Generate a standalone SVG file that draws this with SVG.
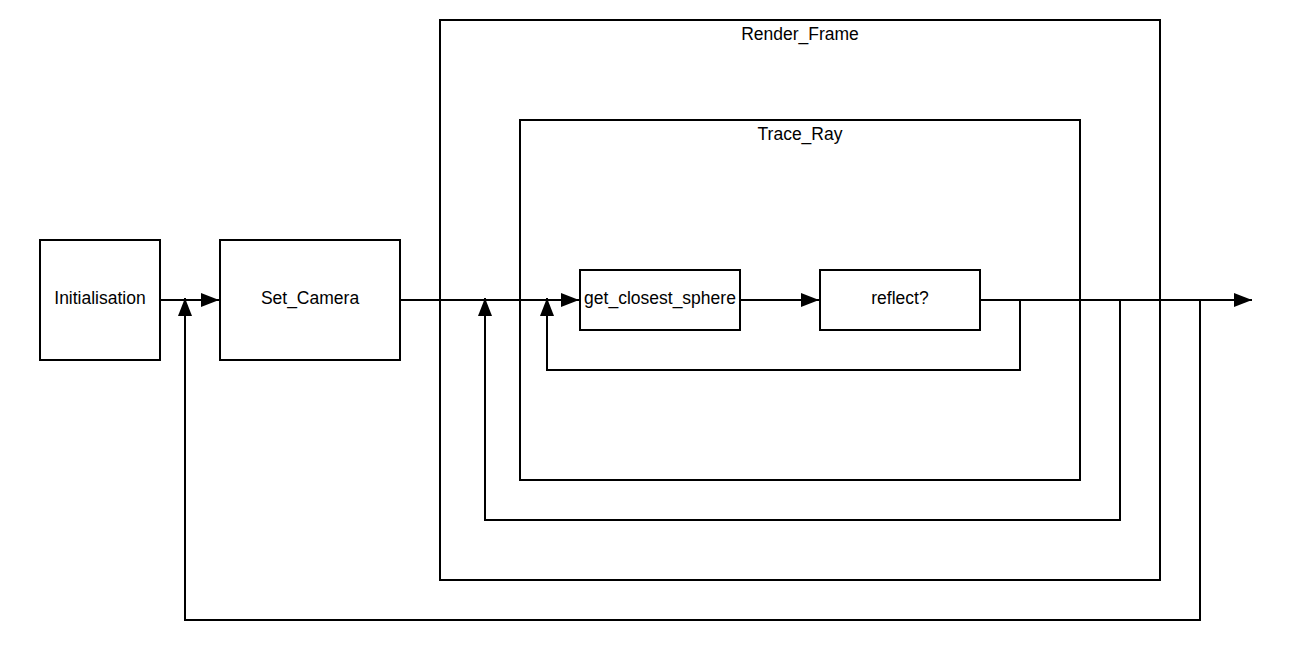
<svg xmlns="http://www.w3.org/2000/svg" width="1290" height="660" viewBox="0 0 1290 660">
<style>
.box{fill:#fff;stroke:#000;stroke-width:2}
.frame{fill:none;stroke:#000;stroke-width:2}
.t{font-family:"Liberation Sans",Arial,sans-serif;font-size:17.5px;fill:#000;text-anchor:middle}
.c{fill:none;stroke:#000;stroke-width:2;marker-end:url(#ah)}
</style>
<defs>
<marker id="ah" viewBox="0 0 18 14" refX="18" refY="7" markerWidth="18" markerHeight="14" markerUnits="userSpaceOnUse" orient="auto">
<path d="M0,0 L18,7 L0,14 Z" fill="#000"/>
</marker>
</defs>
<rect width="1290" height="660" fill="#fff"/>
<g id="render_frame"><rect class="frame" x="440" y="20" width="720" height="560"/><text class="t" x="800" y="40">Render_Frame</text></g>
<g id="trace_ray"><rect class="frame" x="520" y="120" width="560" height="360"/><text class="t" x="800" y="140">Trace_Ray</text></g>
<g id="connectors">
<path class="c" d="M160,300 H219"/>
<path class="c" d="M400,300 H579"/>
<path class="c" d="M740,300 H819"/>
<path class="c" d="M980,300 H1252"/>
<path class="c" d="M1020,300 V370 H547 V298"/>
<path class="c" d="M1120,300 V520 H485 V298"/>
<path class="c" d="M1200,300 V620 H185 V298"/>
</g>
<g id="initialisation"><rect class="box" x="40" y="240" width="120" height="120"/><text class="t" x="100" y="304">Initialisation</text></g>
<g id="set_camera"><rect class="box" x="220" y="240" width="180" height="120"/><text class="t" x="310" y="304">Set_Camera</text></g>
<g id="get_closest_sphere"><rect class="box" x="580" y="270" width="160" height="60"/><text class="t" x="660" y="304">get_closest_sphere</text></g>
<g id="reflect"><rect class="box" x="820" y="270" width="160" height="60"/><text class="t" x="900" y="304">reflect?</text></g>
</svg>
